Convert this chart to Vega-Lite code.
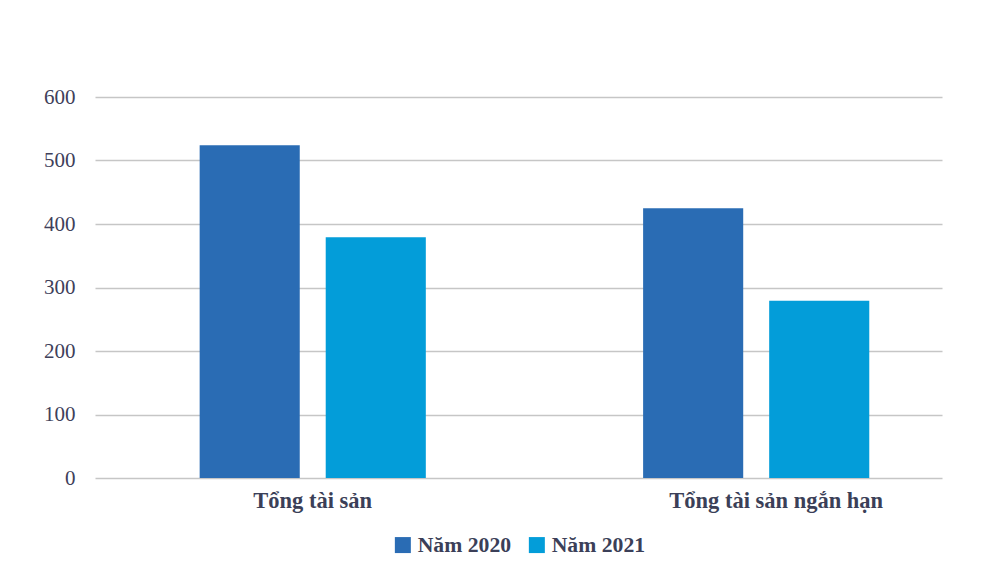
{
  "$schema": "https://vega.github.io/schema/vega-lite/v6.json",
  "width": 847,
  "height": 381,
  "autosize": {"type": "none"},
  "padding": {"left": 95, "top": 97, "right": 56, "bottom": 94},
  "background": "#ffffff",
  "data": {
    "values": [
      {"category": "Tổng tài sản", "year": "Năm 2020", "value": 524},
      {"category": "Tổng tài sản", "year": "Năm 2021", "value": 379},
      {"category": "Tổng tài sản ngắn hạn", "year": "Năm 2020", "value": 425},
      {"category": "Tổng tài sản ngắn hạn", "year": "Năm 2021", "value": 279}
    ]
  },
  "mark": {"type": "bar"},
  "encoding": {
    "x": {
      "field": "category",
      "type": "nominal",
      "sort": null,
      "scale": {"paddingInner": 0.49, "paddingOuter": 0.2, "align": 0.59},
      "axis": {
        "title": null,
        "labelAngle": 0,
        "domain": false,
        "ticks": false,
        "labelLimit": 0,
        "labelFont": "Liberation Serif",
        "labelFontWeight": "bold",
        "labelFontSize": 22.5,
        "labelColor": "#3b3f58",
        "labelPadding": 11,
        "labelOffset": {"condition": {"test": "datum.value == 'Tổng tài sản ngắn hạn'", "value": 20}, "value": 0}
      }
    },
    "xOffset": {
      "field": "year",
      "type": "nominal",
      "scale": {"paddingInner": 0.206, "paddingOuter": 0}
    },
    "y": {
      "field": "value",
      "type": "quantitative",
      "scale": {"domain": [0, 600]},
      "axis": {
        "title": null,
        "values": [0, 100, 200, 300, 400, 500, 600],
        "domain": false,
        "ticks": false,
        "grid": true,
        "gridColor": "#c6c6c6",
        "gridWidth": 1.5,
        "labelFont": "Liberation Serif",
        "labelFontSize": 21,
        "labelColor": "#40405a",
        "labelPadding": 20
      }
    },
    "color": {
      "field": "year",
      "type": "nominal",
      "scale": {"domain": ["Năm 2020", "Năm 2021"], "range": ["#2a6cb4", "#039dd9"]},
      "legend": {
        "title": null,
        "orient": "none",
        "legendX": 297,
        "legendY": 437,
        "direction": "horizontal",
        "symbolType": "square",
        "symbolSize": 256,
        "symbolStrokeWidth": 0,
        "symbolOpacity": 1,
        "labelFont": "Liberation Serif",
        "labelFontWeight": "bold",
        "labelFontSize": 21.7,
        "labelColor": "#3b3f58",
        "labelOffset": 4,
        "columnPadding": 14
      }
    }
  },
  "config": {"view": {"stroke": null}}
}
